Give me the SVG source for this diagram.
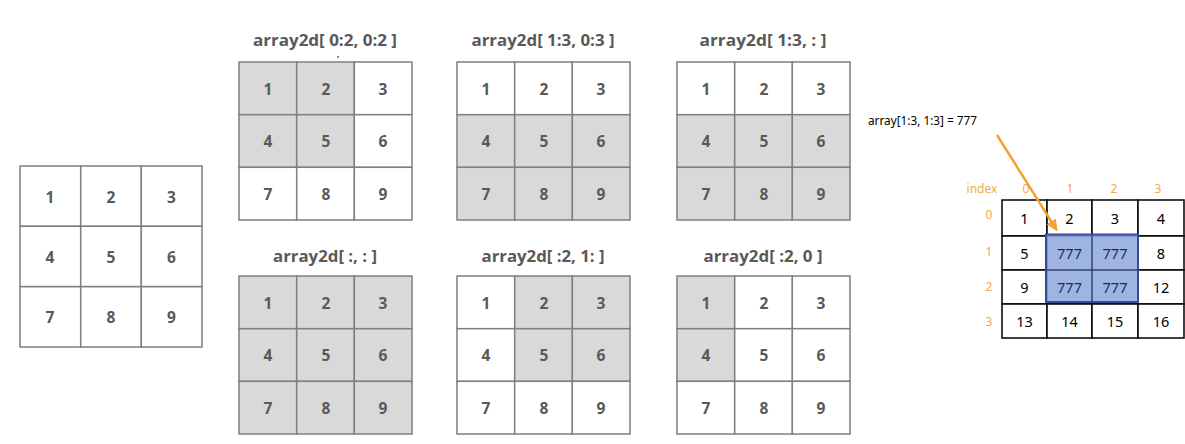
<svg xmlns="http://www.w3.org/2000/svg" width="1185" height="444" viewBox="0 0 1185 444">
<defs>
<style>
.c{fill:#ffffff;stroke:#7f7f7f;stroke-width:1.5}
.g{fill:#d9d9d9;stroke:#7f7f7f;stroke-width:1.5}
.n{font-family:"Open Sans","Liberation Sans",sans-serif;font-weight:bold;font-size:15.5px;fill:#595959;text-anchor:middle;dominant-baseline:central}
.t{font-family:"Open Sans","Liberation Sans",sans-serif;font-weight:bold;font-size:16px;fill:#595959;text-anchor:middle}
.rc{fill:#ffffff;stroke:#000000;stroke-width:1.5}
.rn{font-family:"Noto Sans","Liberation Sans",sans-serif;font-size:14.5px;fill:#000000;text-anchor:middle;dominant-baseline:central}
.bn{font-family:"Noto Sans","Liberation Sans",sans-serif;font-size:14.5px;fill:#1f2a5a;text-anchor:middle;dominant-baseline:central}
.ix{font-family:"Noto Sans","Liberation Sans",sans-serif;font-size:12px;fill:#f5a84a;text-anchor:middle}
</style>
<marker id="ah" markerWidth="12" markerHeight="12" refX="9" refY="6" orient="auto" markerUnits="userSpaceOnUse" viewBox="0 0 12 12">
<path d="M0,0.5 L12,6 L0,11.5 z" fill="#f5a030"/>
</marker>
</defs>
<rect width="1185" height="444" fill="#ffffff"/>

<!-- original grid -->
<g id="grid-original">
<rect class="c" x="20" y="166" width="60.7" height="60.3"/><rect class="c" x="80.7" y="166" width="60.7" height="60.3"/><rect class="c" x="141.3" y="166" width="60.7" height="60.3"/>
<rect class="c" x="20" y="226.3" width="60.7" height="60.3"/><rect class="c" x="80.7" y="226.3" width="60.7" height="60.3"/><rect class="c" x="141.3" y="226.3" width="60.7" height="60.3"/>
<rect class="c" x="20" y="286.7" width="60.7" height="60.3"/><rect class="c" x="80.7" y="286.7" width="60.7" height="60.3"/><rect class="c" x="141.3" y="286.7" width="60.7" height="60.3"/>
<text class="n" x="50" y="197">1</text><text class="n" x="111" y="197">2</text><text class="n" x="171.5" y="197">3</text>
<text class="n" x="50" y="257">4</text><text class="n" x="111" y="257">5</text><text class="n" x="171.5" y="257">6</text>
<text class="n" x="50" y="317">7</text><text class="n" x="111" y="317">8</text><text class="n" x="171.5" y="317">9</text>
</g>

<!-- array2d[ 0:2, 0:2 ] -->
<g id="grid-a" transform="translate(239,62)">
<text class="t" x="86" y="-16" textLength="144" lengthAdjust="spacingAndGlyphs">array2d[ 0:2, 0:2 ]</text>
<rect class="g" x="0" y="0" width="57.7" height="52.7"/><rect class="g" x="57.7" y="0" width="57.7" height="52.7"/><rect class="c" x="115.3" y="0" width="57.7" height="52.7"/>
<rect class="g" x="0" y="52.7" width="57.7" height="52.7"/><rect class="g" x="57.7" y="52.7" width="57.7" height="52.7"/><rect class="c" x="115.3" y="52.7" width="57.7" height="52.7"/>
<rect class="c" x="0" y="105.3" width="57.7" height="52.7"/><rect class="c" x="57.7" y="105.3" width="57.7" height="52.7"/><rect class="c" x="115.3" y="105.3" width="57.7" height="52.7"/>
<text class="n" x="29" y="27">1</text><text class="n" x="87" y="27">2</text><text class="n" x="144" y="27">3</text>
<text class="n" x="29" y="79">4</text><text class="n" x="87" y="79">5</text><text class="n" x="144" y="79">6</text>
<text class="n" x="29" y="132">7</text><text class="n" x="87" y="132">8</text><text class="n" x="144" y="132">9</text>
<circle cx="99" cy="-5" r="1" fill="#e03030"/>
</g>

<!-- array2d[ 1:3, 0:3 ] -->
<g id="grid-b" transform="translate(457,62)">
<text class="t" x="86" y="-16" textLength="143" lengthAdjust="spacingAndGlyphs">array2d[ 1:3, 0:3 ]</text>
<rect class="c" x="0" y="0" width="57.7" height="52.7"/><rect class="c" x="57.7" y="0" width="57.7" height="52.7"/><rect class="c" x="115.3" y="0" width="57.7" height="52.7"/>
<rect class="g" x="0" y="52.7" width="57.7" height="52.7"/><rect class="g" x="57.7" y="52.7" width="57.7" height="52.7"/><rect class="g" x="115.3" y="52.7" width="57.7" height="52.7"/>
<rect class="g" x="0" y="105.3" width="57.7" height="52.7"/><rect class="g" x="57.7" y="105.3" width="57.7" height="52.7"/><rect class="g" x="115.3" y="105.3" width="57.7" height="52.7"/>
<text class="n" x="29" y="27">1</text><text class="n" x="87" y="27">2</text><text class="n" x="144" y="27">3</text>
<text class="n" x="29" y="79">4</text><text class="n" x="87" y="79">5</text><text class="n" x="144" y="79">6</text>
<text class="n" x="29" y="132">7</text><text class="n" x="87" y="132">8</text><text class="n" x="144" y="132">9</text>
</g>

<!-- array2d[ 1:3, : ] -->
<g id="grid-c" transform="translate(677,62)">
<text class="t" x="86" y="-16" textLength="127" lengthAdjust="spacingAndGlyphs">array2d[ 1:3, : ]</text>
<rect class="c" x="0" y="0" width="57.7" height="52.7"/><rect class="c" x="57.7" y="0" width="57.7" height="52.7"/><rect class="c" x="115.3" y="0" width="57.7" height="52.7"/>
<rect class="g" x="0" y="52.7" width="57.7" height="52.7"/><rect class="g" x="57.7" y="52.7" width="57.7" height="52.7"/><rect class="g" x="115.3" y="52.7" width="57.7" height="52.7"/>
<rect class="g" x="0" y="105.3" width="57.7" height="52.7"/><rect class="g" x="57.7" y="105.3" width="57.7" height="52.7"/><rect class="g" x="115.3" y="105.3" width="57.7" height="52.7"/>
<text class="n" x="29" y="27">1</text><text class="n" x="87" y="27">2</text><text class="n" x="144" y="27">3</text>
<text class="n" x="29" y="79">4</text><text class="n" x="87" y="79">5</text><text class="n" x="144" y="79">6</text>
<text class="n" x="29" y="132">7</text><text class="n" x="87" y="132">8</text><text class="n" x="144" y="132">9</text>
</g>

<!-- array2d[ :, : ] -->
<g id="grid-d" transform="translate(239,276)">
<text class="t" x="86" y="-14" textLength="104" lengthAdjust="spacingAndGlyphs">array2d[ :, : ]</text>
<rect class="g" x="0" y="0" width="57.7" height="52.7"/><rect class="g" x="57.7" y="0" width="57.7" height="52.7"/><rect class="g" x="115.3" y="0" width="57.7" height="52.7"/>
<rect class="g" x="0" y="52.7" width="57.7" height="52.7"/><rect class="g" x="57.7" y="52.7" width="57.7" height="52.7"/><rect class="g" x="115.3" y="52.7" width="57.7" height="52.7"/>
<rect class="g" x="0" y="105.3" width="57.7" height="52.7"/><rect class="g" x="57.7" y="105.3" width="57.7" height="52.7"/><rect class="g" x="115.3" y="105.3" width="57.7" height="52.7"/>
<text class="n" x="29" y="27">1</text><text class="n" x="87" y="27">2</text><text class="n" x="144" y="27">3</text>
<text class="n" x="29" y="79">4</text><text class="n" x="87" y="79">5</text><text class="n" x="144" y="79">6</text>
<text class="n" x="29" y="132">7</text><text class="n" x="87" y="132">8</text><text class="n" x="144" y="132">9</text>
</g>

<!-- array2d[ :2, 1: ] -->
<g id="grid-e" transform="translate(457,276)">
<text class="t" x="86" y="-14" textLength="123" lengthAdjust="spacingAndGlyphs">array2d[ :2, 1: ]</text>
<rect class="c" x="0" y="0" width="57.7" height="52.7"/><rect class="g" x="57.7" y="0" width="57.7" height="52.7"/><rect class="g" x="115.3" y="0" width="57.7" height="52.7"/>
<rect class="c" x="0" y="52.7" width="57.7" height="52.7"/><rect class="g" x="57.7" y="52.7" width="57.7" height="52.7"/><rect class="g" x="115.3" y="52.7" width="57.7" height="52.7"/>
<rect class="c" x="0" y="105.3" width="57.7" height="52.7"/><rect class="c" x="57.7" y="105.3" width="57.7" height="52.7"/><rect class="c" x="115.3" y="105.3" width="57.7" height="52.7"/>
<text class="n" x="29" y="27">1</text><text class="n" x="87" y="27">2</text><text class="n" x="144" y="27">3</text>
<text class="n" x="29" y="79">4</text><text class="n" x="87" y="79">5</text><text class="n" x="144" y="79">6</text>
<text class="n" x="29" y="132">7</text><text class="n" x="87" y="132">8</text><text class="n" x="144" y="132">9</text>
</g>

<!-- array2d[ :2, 0 ] -->
<g id="grid-f" transform="translate(677,276)">
<text class="t" x="86" y="-14" textLength="119" lengthAdjust="spacingAndGlyphs">array2d[ :2, 0 ]</text>
<rect class="g" x="0" y="0" width="57.7" height="52.7"/><rect class="c" x="57.7" y="0" width="57.7" height="52.7"/><rect class="c" x="115.3" y="0" width="57.7" height="52.7"/>
<rect class="g" x="0" y="52.7" width="57.7" height="52.7"/><rect class="c" x="57.7" y="52.7" width="57.7" height="52.7"/><rect class="c" x="115.3" y="52.7" width="57.7" height="52.7"/>
<rect class="c" x="0" y="105.3" width="57.7" height="52.7"/><rect class="c" x="57.7" y="105.3" width="57.7" height="52.7"/><rect class="c" x="115.3" y="105.3" width="57.7" height="52.7"/>
<text class="n" x="29" y="27">1</text><text class="n" x="87" y="27">2</text><text class="n" x="144" y="27">3</text>
<text class="n" x="29" y="79">4</text><text class="n" x="87" y="79">5</text><text class="n" x="144" y="79">6</text>
<text class="n" x="29" y="132">7</text><text class="n" x="87" y="132">8</text><text class="n" x="144" y="132">9</text>
</g>

<!-- assignment grid -->
<g id="grid-assign">
<text x="868" y="125" font-family="'Noto Sans','Liberation Sans',sans-serif" font-size="13" fill="#000000" textLength="109" lengthAdjust="spacingAndGlyphs">array[1:3, 1:3] = 777</text>
<rect class="rc" x="1002" y="200" width="45" height="36"/><rect class="rc" x="1047" y="200" width="45" height="36"/><rect class="rc" x="1092" y="200" width="46" height="36"/><rect class="rc" x="1138" y="200" width="46" height="36"/>
<rect class="rc" x="1002" y="236" width="45" height="34"/><rect class="rc" x="1047" y="236" width="45" height="34"/><rect class="rc" x="1092" y="236" width="46" height="34"/><rect class="rc" x="1138" y="236" width="46" height="34"/>
<rect class="rc" x="1002" y="270" width="45" height="34"/><rect class="rc" x="1047" y="270" width="45" height="34"/><rect class="rc" x="1092" y="270" width="46" height="34"/><rect class="rc" x="1138" y="270" width="46" height="34"/>
<rect class="rc" x="1002" y="304" width="45" height="34"/><rect class="rc" x="1047" y="304" width="45" height="34"/><rect class="rc" x="1092" y="304" width="46" height="34"/><rect class="rc" x="1138" y="304" width="46" height="34"/>
<rect x="1046" y="234.5" width="92" height="67.5" fill="#8ea8dc" fill-opacity="0.85" stroke="#3b4a9c" stroke-width="2"/>
<line x1="1092" y1="235" x2="1092" y2="302" stroke="#1f2a5a" stroke-width="1"/>
<line x1="1046" y1="270" x2="1138" y2="270" stroke="#1f2a5a" stroke-width="1"/>
<text class="rn" x="1024.5" y="218">1</text><text class="rn" x="1069.5" y="218">2</text><text class="rn" x="1115" y="218">3</text><text class="rn" x="1161" y="218">4</text>
<text class="rn" x="1024.5" y="253">5</text><text class="bn" x="1069.5" y="253">777</text><text class="bn" x="1115" y="253">777</text><text class="rn" x="1161" y="253">8</text>
<text class="rn" x="1024.5" y="287">9</text><text class="bn" x="1069.5" y="287">777</text><text class="bn" x="1115" y="287">777</text><text class="rn" x="1161" y="287">12</text>
<text class="rn" x="1024.5" y="321">13</text><text class="rn" x="1069.5" y="321">14</text><text class="rn" x="1115" y="321">15</text><text class="rn" x="1161" y="321">16</text>
<text class="ix" x="982" y="193">index</text>
<text class="ix" x="1026" y="193">0</text><text class="ix" x="1070" y="193">1</text><text class="ix" x="1114" y="193">2</text><text class="ix" x="1158" y="193">3</text>
<text class="ix" x="989" y="219">0</text><text class="ix" x="989" y="256">1</text><text class="ix" x="989" y="291">2</text><text class="ix" x="989" y="326">3</text>
</g>

<g id="connectors">
<line x1="997" y1="135" x2="1056" y2="229" stroke="#f5a030" stroke-width="2.5" marker-end="url(#ah)"/>
</g>
</svg>
